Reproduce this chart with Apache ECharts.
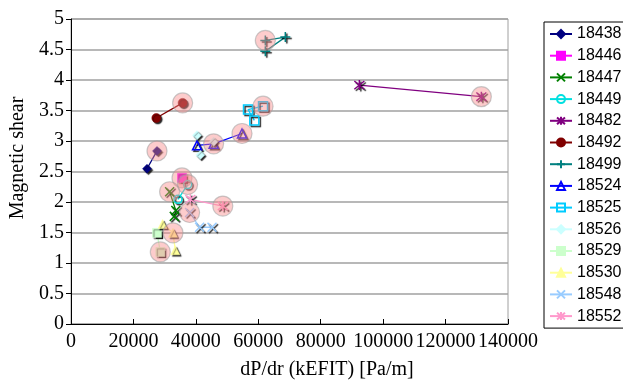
<!DOCTYPE html>
<html>
<head>
<meta charset="utf-8">
<script src="https://cdn.jsdelivr.net/npm/echarts@6/dist/echarts.min.js"></script>
<style>html,body{margin:0;padding:0;background:#fff;}#c{width:623px;height:385px;}</style>
</head>
<body>
<div id="c"></div>
<script>
var shotNames = ['18438','18446','18447','18449','18482','18492','18499','18524','18525','18526','18529','18530','18548','18552'];
var s18438 = [[24350, 2.545], [27555, 2.837]];
var s18446 = [[35566, 2.395]];
var s18447 = [[31593, 2.168], [33579, 1.861], [33098, 1.764]];
var s18449 = [[37360, 2.286], [34284, 2.044]];
var s18482 = [[92374, 3.916], [131464, 3.727]];
var s18492 = [[27331, 3.377], [35758, 3.625]];
var s18499 = [[62256, 4.649], [68664, 4.703], [62256, 4.471]];
var s18524 = [[40372, 2.929], [45690, 2.953], [54790, 3.123]];
var s18525 = [[61519, 3.571], [56713, 3.516], [58731, 3.338]];
var s18526 = [[40372, 3.095], [41429, 2.772], [45690, 2.989]];
var s18529 = [[27555, 1.494], [28613, 1.181]];
var s18530 = [[29350, 1.639], [32682, 1.494], [33419, 1.209]];
var s18548 = [[38001, 1.828], [41205, 1.586], [45178, 1.586]];
var s18552 = [[38225, 2.044], [48638, 1.934]];
// highlighted points: [series index, point index]
var highlighted = [[0,1],[1,0],[2,0],[3,0],[4,1],[5,1],[6,0],[7,1],[7,2],[8,0],[10,1],[11,1],[12,0],[13,1]];
var xTicks = [0, 20000, 40000, 60000, 80000, 100000, 120000, 140000];
var yTicks = [0, 0.5, 1, 1.5, 2, 2.5, 3, 3.5, 4, 4.5, 5];

var seriesData = [s18438, s18446, s18447, s18449, s18482, s18492, s18499, s18524, s18525, s18526, s18529, s18530, s18548, s18552];
var colors = ['#000080','#FF00FF','#008000','#00E0E0','#800080','#800000','#008080','#0000FF','#00CCFF','#CCFFFF','#CCFFCC','#FFFF99','#99CCFF','#FF99CC'];
var X = 'path://M0,0L10,10M10,0L0,10';
var PLUS = 'path://M5,0L5,10M0,5L10,5';
var STAR = 'path://M0,0L10,10M10,0L0,10M5,-1L5,11';
var symbols = ['diamond','rect',X,'circle',STAR,'circle',PLUS,'triangle','rect','diamond','rect','triangle',X,STAR];
var hollow = [false,false,false,true,false,false,false,true,true,false,false,false,false,false];
var lineSym = [false,false,true,false,true,false,true,false,false,false,false,false,true,true];
var sizes = [9,9,9,8,10,9,10,9,9,9,9,9,9,10];

var series = shotNames.map(function(n, i){
  var fill = hollow[i] ? 'rgba(255,255,255,0)' : colors[i];
  return {
    name: n, type: 'line', data: seriesData[i],
    symbol: symbols[i], symbolSize: sizes[i], showSymbol: true,
    lineStyle: {color: colors[i], width: 1.3},
    itemStyle: {color: fill, borderColor: colors[i], borderWidth: (hollow[i]||lineSym[i]) ? 1.5 : 0.5,
      shadowColor: 'rgba(0,0,0,0.85)', shadowBlur: 1, shadowOffsetX: 1.5, shadowOffsetY: 1.5},
    emphasis: {disabled: true}, animation: false, z: 2
  };
});
series.push({
  name: 'hl', type: 'scatter', z: 3, animation: false,
  data: highlighted.map(function(h){ return seriesData[h[0]][h[1]]; }),
  symbol: 'circle', symbolSize: 20,
  itemStyle: {color: 'rgba(250,140,140,0.55)', borderColor: 'rgba(160,160,160,0.7)', borderWidth: 1.2},
  emphasis: {disabled: true}
});

var chart = echarts.init(document.getElementById('c'));
chart.setOption({
  animation: false,
  grid: {left: 71, right: 115, top: 19, bottom: 57, show: true, borderColor: '#A0A0A0', borderWidth: 1},
  xAxis: {
    type: 'value', min: xTicks[0], max: xTicks[xTicks.length-1], interval: xTicks[1]-xTicks[0],
    name: 'dP/dr (kEFIT) [Pa/m]', nameLocation: 'middle', nameGap: 36,
    nameTextStyle: {fontFamily: 'Liberation Serif', fontSize: 20, color: '#000', padding: [0,0,0,75]},
    axisLine: {lineStyle: {color: '#000', width: 1}},
    axisTick: {inside: true, length: 5, lineStyle: {color: '#000'}},
    axisLabel: {fontFamily: 'Liberation Serif', fontSize: 20, color: '#000', margin: 8, formatter: function(v){return String(v);}},
    splitLine: {show: false}
  },
  yAxis: {
    type: 'value', min: yTicks[0], max: yTicks[yTicks.length-1], interval: yTicks[1]-yTicks[0],
    name: 'Magnetic shear', nameLocation: 'middle', nameGap: 39,
    nameTextStyle: {fontFamily: 'Liberation Serif', fontSize: 20, color: '#000', padding: [0,0,0,27]},
    axisLine: {show: true, lineStyle: {color: '#000', width: 1}},
    axisTick: {show: true, length: 5, lineStyle: {color: '#000'}},
    axisLabel: {fontFamily: 'Liberation Serif', fontSize: 20, color: '#000', margin: 7},
    splitLine: {show: true, lineStyle: {color: '#A0A0A0', width: 1.5}}
  },
  legend: {
    orient: 'vertical', left: 544, top: 22, data: shotNames,
    padding: [4, 5, 4, 5], itemGap: 5.7, itemWidth: 22, itemHeight: 10,
    borderColor: '#000', borderWidth: 1,
    textStyle: {fontFamily: 'Liberation Sans', fontSize: 16, color: '#000', lineHeight: 16},
    itemStyle: {shadowBlur: 0, shadowOffsetX: 0, shadowOffsetY: 0, shadowColor: 'rgba(0,0,0,0)'}
  },
  series: series
});
</script>
</body>
</html>
